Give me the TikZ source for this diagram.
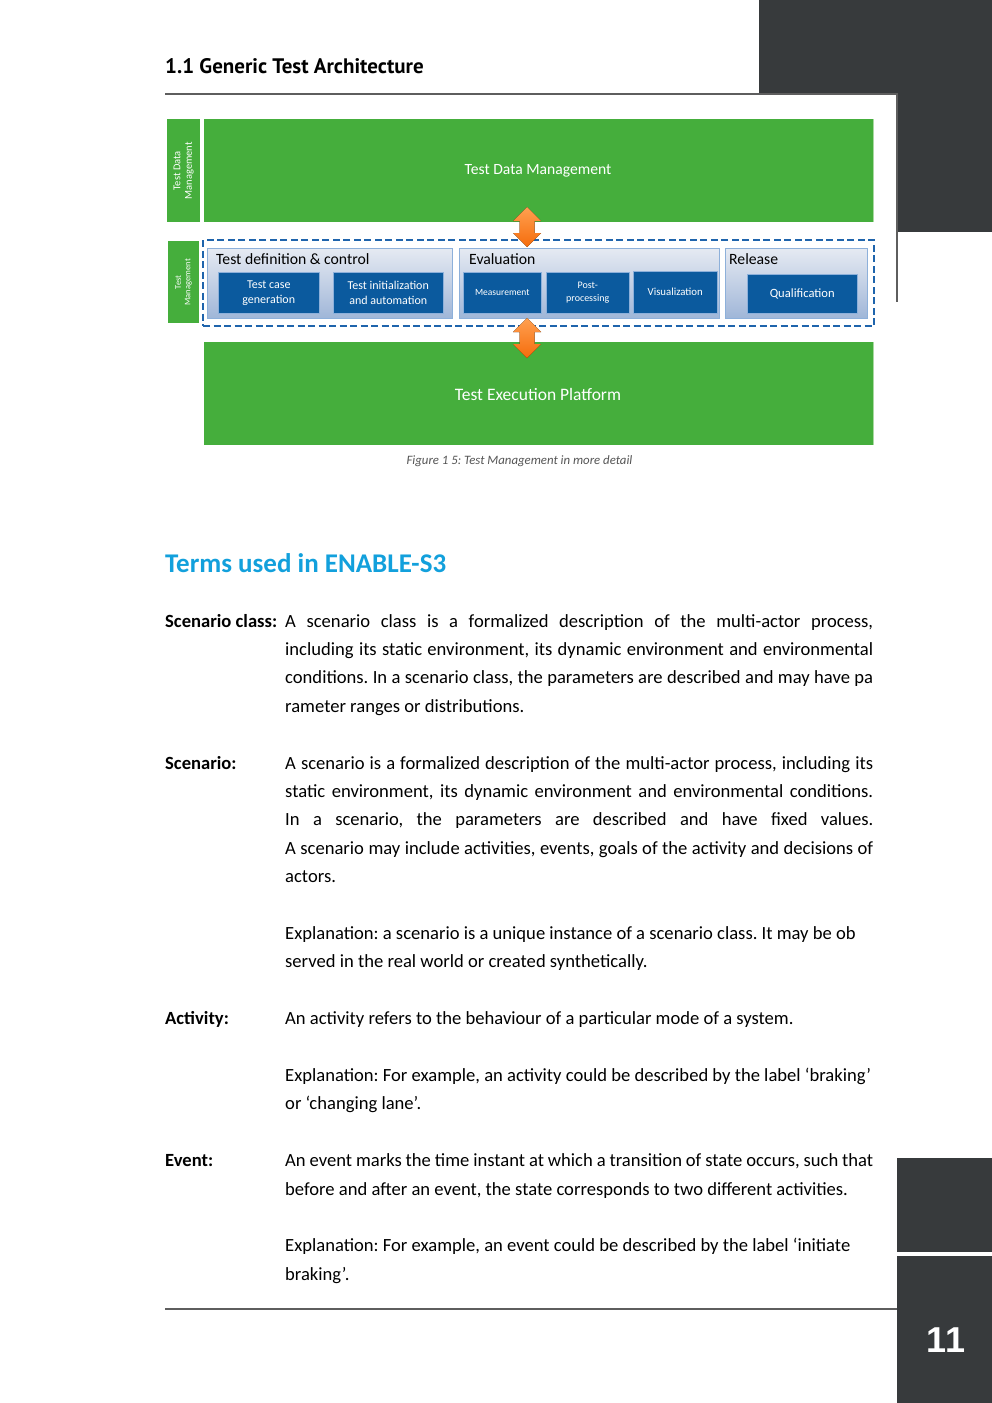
\documentclass[tikz,border=0pt]{standalone}
\usepackage{fontspec}
\setmainfont{Carlito}
\newfontfamily\headfont{PT Sans}
\newfontfamily\numfont{Liberation Sans}
\definecolor{tgreen}{HTML}{45AE3C}
\definecolor{tgreenedge}{HTML}{A9D9A1}
\definecolor{tblue}{HTML}{0B5A9E}
\definecolor{dashblue}{HTML}{1F64AC}
\definecolor{panelTop}{HTML}{E6EAF2}
\definecolor{panelBot}{HTML}{9FB6D8}
\definecolor{panelLine}{HTML}{8DB0DA}
\definecolor{darkbox}{HTML}{373A3C}
\definecolor{rulegray}{HTML}{5E5E5E}
\definecolor{titlecyan}{HTML}{12A0DC}
\definecolor{orTop}{HTML}{FFA050}
\definecolor{orBot}{HTML}{F56C0C}
\definecolor{capgray}{HTML}{555555}
\newcommand\jline[1]{\makebox[588pt][s]{#1}}
\frenchspacing
\tikzset{
  greenbox/.style={fill=tgreen, draw=none, inner sep=0pt},
  tabtext/.style={text=white, align=center, rotate=90, inner sep=0pt},
  panel/.style={top color=panelTop, bottom color=panelBot, draw=panelLine, line width=0.8pt},
  bluebox/.style={fill=tblue, draw=panelLine, line width=0.5pt},
  whitetxt/.style={text=white, align=center, inner sep=0pt},
  paneltitle/.style={anchor=base west, inner sep=0pt, font=\fontsize{15.7}{18}\selectfont},
  txt/.style={anchor=base west, inner sep=0pt, font=\fontsize{18.6}{21}\selectfont},
  term/.style={anchor=base west, inner sep=0pt, font=\fontsize{18.6}{21}\selectfont\bfseries},
  dashbox/.style={draw=dashblue, line width=2.2pt, dash pattern=on 7pt off 3.5pt},
  orarrow/.style={top color=orTop, bottom color=orBot, draw=none},
  rule/.style={draw=rulegray, line width=2pt},
  darkfill/.style={fill=darkbox, draw=none}
}
\begin{document}
\begin{tikzpicture}[x=1pt,y=-1pt]
\useasboundingbox (0,0) rectangle (992,1403);
\fill[white] (0,0) rectangle (992,1403);

% page decoration
\fill[darkfill] (759,0) rectangle (992,93);
\fill[darkfill] (897,93) rectangle (992,232);
\fill[darkfill] (897,1158) rectangle (992,1252);
\fill[darkfill] (897,1256) rectangle (992,1403);
\draw[rule] (165,93.5) -- (897,93.5);
\draw[draw=rulegray, line width=1.5pt] (897,93) -- (897,302);
\draw[rule] (165,1309) -- (897,1309);
\node[text=white, inner sep=0pt, font=\numfont\fontsize{36}{40}\selectfont\bfseries] (pnum) at (946,1340) {11};

% header
\node[anchor=base west, inner sep=0pt, font=\headfont\fontsize{21}{24}\selectfont\bfseries] (head) at (165,73) {1.1 Generic Test Architecture};

% diagram
\node[greenbox, minimum width=33pt, minimum height=103pt, anchor=north west] (tabtdm) at (167,119) {};
\node[tabtext, font=\fontsize{10.5}{11.5}\selectfont] (tabtdmt) at (tabtdm.center) {Test Data\\Management};
\node[greenbox, minimum width=669pt, minimum height=103pt, anchor=north west] (tdm) at (204,119) {};
\draw[tgreenedge, line width=1pt] (tdm.north east) -- (tdm.south east);
\node[whitetxt, font=\fontsize{15.6}{18}\selectfont] (tdmt) at (538,171) {Test Data Management};

\node[greenbox, minimum width=31pt, minimum height=82pt, anchor=north west] (tabtm) at (168,241) {};
\node[tabtext, font=\fontsize{8.5}{9.5}\selectfont] (tabtmt) at (tabtm.center) {Test\\Management};

\node[dashbox, minimum width=671pt, minimum height=86pt, anchor=north west, inner sep=0pt] (tm) at (202,239) {};

\node[panel, minimum width=245pt, minimum height=70pt, anchor=north west, inner sep=0pt] (pdef) at (207,248) {};
\node[paneltitle] (pdeft) at (216,264) {Test definition \& control};
\node[bluebox, minimum width=101pt, minimum height=41pt, anchor=north west, inner sep=0pt] (tcg) at (218,272) {};
\node[whitetxt, font=\fontsize{12}{15}\selectfont] at (tcg.center) {Test case\\generation};
\node[bluebox, minimum width=110pt, minimum height=41pt, anchor=north west, inner sep=0pt] (tia) at (333,272) {};
\node[whitetxt, font=\fontsize{12}{15}\selectfont] at (tia.center) {Test initialization\\and automation};

\node[panel, minimum width=260pt, minimum height=70pt, anchor=north west, inner sep=0pt] (peval) at (459,248) {};
\node[paneltitle] (pevalt) at (469,264) {Evaluation};
\node[bluebox, minimum width=78pt, minimum height=41pt, anchor=north west, inner sep=0pt] (meas) at (463,272) {};
\node[whitetxt, font=\fontsize{9.5}{11}\selectfont] at (meas.center) {Measurement};
\node[bluebox, minimum width=83pt, minimum height=41pt, anchor=north west, inner sep=0pt] (post) at (546,272) {};
\node[whitetxt, font=\fontsize{10}{13}\selectfont] at (post.center) {Post-\\processing};
\node[bluebox, minimum width=84pt, minimum height=42pt, anchor=north west, inner sep=0pt] (vis) at (633,271) {};
\node[whitetxt, font=\fontsize{10.8}{12}\selectfont] at (vis.center) {Visualization};

\node[panel, minimum width=142pt, minimum height=70pt, anchor=north west, inner sep=0pt] (prel) at (725,248) {};
\node[paneltitle] (prelt) at (729,264) {Release};
\node[bluebox, minimum width=110pt, minimum height=39pt, anchor=north west, inner sep=0pt] (qual) at (747,274) {};
\node[whitetxt, font=\fontsize{12.6}{14}\selectfont] at (qual.center) {Qualification};

\node[greenbox, minimum width=669pt, minimum height=103pt, anchor=north west] (tep) at (204,342) {};
\draw[tgreenedge, line width=1pt] (tep.north east) -- (tep.south east);
\node[whitetxt, font=\fontsize{17.5}{20}\selectfont] (tept) at (538,394) {Test Execution Platform};

% orange double arrows
\fill[orarrow] (527,207) -- (541,221) -- (534.5,221) -- (534.5,233) -- (541,233) -- (527,247) -- (513,233) -- (519.5,233) -- (519.5,221) -- (513,221) -- cycle;
\fill[orarrow] (527,318) -- (541,332) -- (534.5,332) -- (534.5,344) -- (541,344) -- (527,358) -- (513,344) -- (519.5,344) -- (519.5,332) -- (513,332) -- cycle;

% caption
\node[text=capgray, inner sep=0pt, anchor=base, font=\fontsize{12.8}{14}\selectfont\itshape] (cap) at (519.5,464) {Figure 1 5: Test Management in more detail};

% title
\node[anchor=base west, inner sep=0pt, text=titlecyan, font=\fontsize{27}{30}\selectfont\bfseries] (title) at (165,572) {Terms used in ENABLE-S3};

% Scenario class
\node[term] (tsc) at (165,627) {Scenario class:};
\node[txt] (sc1) at (285,627) {\jline{A scenario class is a formalized description of the multi-actor process,}};
\node[txt] (sc2) at (285,655.4) {\jline{including its static environment, its dynamic environment and environmental}};
\node[txt] (sc3) at (285,683.8) {\jline{conditions. In a scenario class, the parameters are described and may have pa}};
\node[txt] (sc4) at (285,712.2) {rameter ranges or distributions.};

% Scenario
\node[term] (ts) at (165,769) {Scenario:};
\node[txt] (s1) at (285,769) {\jline{A scenario is a formalized description of the multi-actor process, including its}};
\node[txt] (s2) at (285,797.4) {\jline{static environment, its dynamic environment and environmental conditions.}};
\node[txt] (s3) at (285,825.8) {\jline{In a scenario, the parameters are described and have fixed values.}};
\node[txt] (s4) at (285,854.2) {\jline{A scenario may include activities, events, goals of the activity and decisions of}};
\node[txt] (s5) at (285,882.6) {actors.};
\node[txt] (se1) at (285,939.4) {Explanation: a scenario is a unique instance of a scenario class. It may be ob};
\node[txt] (se2) at (285,967.8) {served in the real world or created synthetically.};

% Activity
\node[term] (ta) at (165,1024.6) {Activity:};
\node[txt] (a1) at (285,1024.6) {An activity refers to the behaviour of a particular mode of a system.};
\node[txt] (ae1) at (285,1081.4) {Explanation: For example, an activity could be described by the label ‘braking’};
\node[txt] (ae2) at (285,1109.8) {or ‘changing lane’.};

% Event
\node[term] (te) at (165,1166.6) {Event:};
\node[txt] (e1) at (285,1166.6) {\jline{An event marks the time instant at which a transition of state occurs, such that}};
\node[txt] (e2) at (285,1195) {before and after an event, the state corresponds to two different activities.};
\node[txt] (ee1) at (285,1251.8) {Explanation: For example, an event could be described by the label ‘initiate};
\node[txt] (ee2) at (285,1280.2) {braking’.};
\end{tikzpicture}
\end{document}
